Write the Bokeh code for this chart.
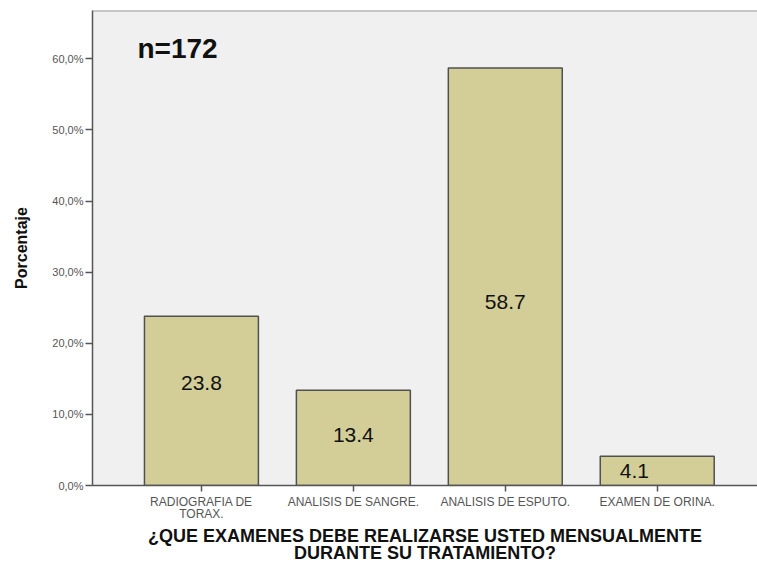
from bokeh.plotting import figure
from bokeh.models import Range1d, FixedTicker, Span, Label
from bokeh.embed import file_html
from bokeh.resources import INLINE

categories = ["RADIOGRAFIA DE\nTORAX.", "ANALISIS DE SANGRE.", "ANALISIS DE ESPUTO.", "EXAMEN DE ORINA."]
percentages = [23.8, 13.4, 58.7, 4.1]
value_labels = ["23.8", "13.4", "58.7", "4.1"]
label_x = [1.0, 2.0, 3.0, 3.85]
label_y = [14.4, 7.15, 25.8, 2.1]
y_ticks = [0, 10, 20, 30, 40, 50, 60]
y_tick_labels = ["0,0%", "10,0%", "20,0%", "30,0%", "40,0%", "50,0%", "60,0%"]
sample_note = "n=172"

x = [1, 2, 3, 4]

p = figure(width=757, height=566, output_backend="svg", toolbar_location=None,
           x_range=Range1d(0.283, 4.66), y_range=Range1d(0, 66.8),
           min_border_left=92, min_border_top=10, min_border_bottom=80, min_border_right=0)

p.background_fill_color = "#F0F0F0"
p.border_fill_color = "white"
p.outline_line_color = None
p.grid.visible = False

p.vbar(x=x, top=percentages, width=0.75, fill_color="#D3CE98",
       line_color="#505050", line_width=1.5)

for xi, yi, t in zip(label_x, label_y, value_labels):
    p.add_layout(Label(x=xi, y=yi, text=t, text_align="center", text_baseline="middle",
                       text_font="Liberation Sans", text_font_size="21px",
                       text_color="#111111"))

p.add_layout(Label(x=0.579, y=61.4, text=sample_note,
                   text_font="Liberation Sans", text_font_size="28px",
                   text_font_style="bold", text_color="#111111",
                   text_align="left", text_baseline="middle"))
# top border
p.add_layout(Span(location=66.8, dimension="width", line_color="#9A9A9A", line_width=2))

# y axis
p.yaxis.ticker = FixedTicker(ticks=y_ticks)
p.yaxis.major_label_overrides = {t: l for t, l in zip(y_ticks, y_tick_labels)}
p.yaxis.minor_tick_line_color = None
p.yaxis.major_tick_out = 7
p.yaxis.major_tick_in = 0
p.yaxis.axis_line_color = "#555555"
p.yaxis.axis_line_width = 1.5
p.yaxis.major_tick_line_color = "#555555"
p.yaxis.major_tick_line_width = 1.5
p.yaxis.major_label_text_font = "Liberation Sans"
p.yaxis.major_label_text_font_size = "11px"
p.yaxis.major_label_text_color = "#555555"
p.yaxis.major_label_standoff = 2
p.yaxis.axis_label = "Porcentaje"
p.yaxis.axis_label_text_font = "Liberation Sans"
p.yaxis.axis_label_text_font_size = "16px"
p.yaxis.axis_label_text_font_style = "bold"
p.yaxis.axis_label_text_color = "#111111"
p.yaxis.axis_label_standoff = 19

# x axis
p.xaxis.ticker = FixedTicker(ticks=x)
p.xaxis.major_label_overrides = {xi: c for xi, c in zip(x, categories)}
p.xaxis.minor_tick_line_color = None
p.xaxis.major_tick_out = 6
p.xaxis.major_tick_in = 0
p.xaxis.axis_line_color = "#555555"
p.xaxis.axis_line_width = 1.5
p.xaxis.major_tick_line_color = "#555555"
p.xaxis.major_tick_line_width = 1.5
p.xaxis.major_label_text_font = "Liberation Sans"
p.xaxis.major_label_text_font_size = "12px"
p.xaxis.major_label_text_color = "#555555"
p.xaxis.major_label_text_line_height = 0.9
p.xaxis.major_label_standoff = 3
p.xaxis.axis_label = "¿QUE EXAMENES DEBE REALIZARSE USTED MENSUALMENTE\nDURANTE SU TRATAMIENTO?"
p.xaxis.axis_label_text_font = "Liberation Sans"
p.xaxis.axis_label_text_font_size = "18px"
p.xaxis.axis_label_text_font_style = "bold"
p.xaxis.axis_label_text_color = "#111111"
p.xaxis.axis_label_standoff = 2
p.xaxis.axis_label_text_line_height = 0.85

open("out.html", "w").write(file_html(p, INLINE))
